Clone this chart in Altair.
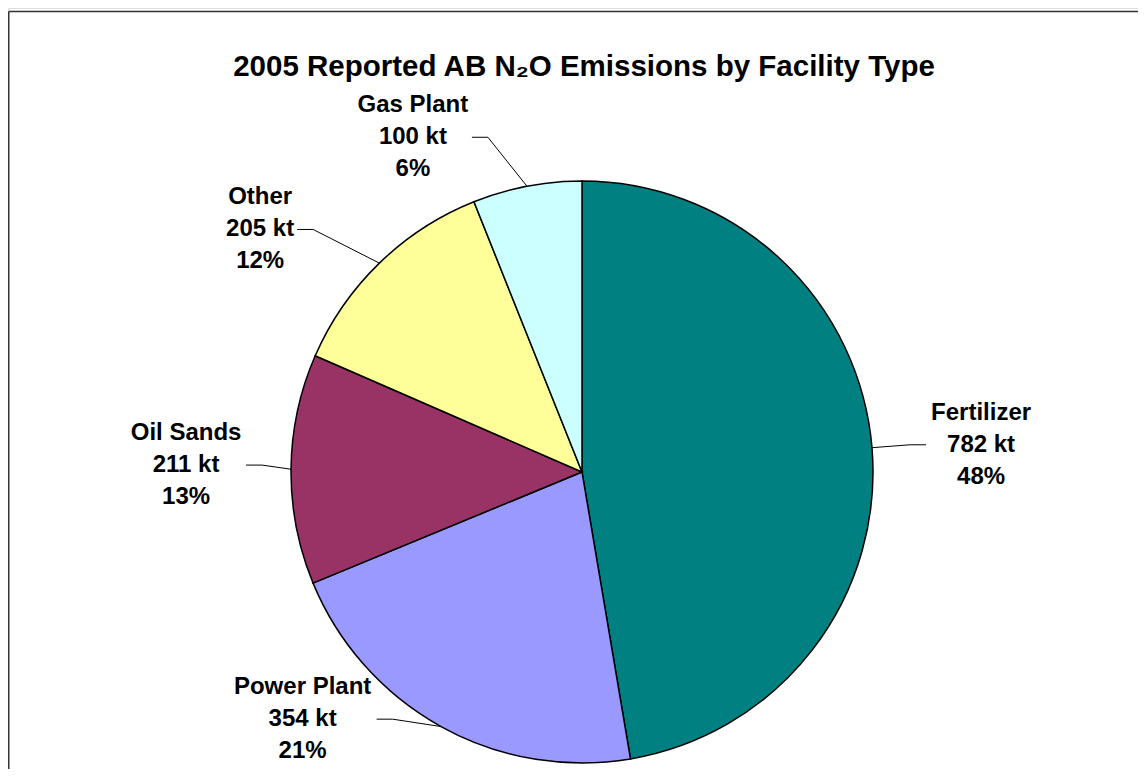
import altair as alt
import pandas as pd

# ---- data ----
categories = ["Fertilizer", "Power Plant", "Oil Sands", "Other", "Gas Plant"]
values_kt = [782, 354, 211, 205, 100]
pct_labels = ["48%", "21%", "13%", "12%", "6%"]
colors = ["#008080", "#9999FF", "#993366", "#FFFF99", "#CCFFFF"]

# ---- label layout (polar, relative to pie centre) ----
label_angle_deg = [86.1, 228.5, 271.0, 307.0, 333.2]
label_radius_px = [400, 373, 396, 403, 375]
label_half_width = [53, 72, 58, 35, 57]

W, H = 1130, 761
CX, CY, R = 574, 464, 291
FONT = "Liberation Sans"
LINE_H = 32

df = pd.DataFrame({
    "category": categories,
    "value": values_kt,
    "pct": pct_labels,
    "idx": list(range(len(categories))),
    "la": label_angle_deg,
    "lr": label_radius_px,
    "hw": label_half_width,
})

base = (
    alt.Chart(df)
    .transform_joinaggregate(total="sum(value)")
    .transform_window(cum="sum(value)", sort=[alt.SortField("idx")], frame=[None, 0])
    .transform_calculate(
        mid="(datum.cum - datum.value/2) / datum.total * 2 * PI",
        px=f"{CX} + {R} * sin(datum.mid)",
        py=f"{CY} - {R} * cos(datum.mid)",
        lx=f"{CX} + datum.lr * sin(datum.la * PI / 180)",
        ly=f"{CY} - datum.lr * cos(datum.la * PI / 180)",
        side="sin(datum.la * PI / 180) > 0 ? 1 : -1",
        ex="datum.lx - datum.side * (datum.hw + 2)",
        elx="datum.lx - datum.side * (datum.hw + 18)",
        label="datum.category + '\\n' + datum.value + ' kt\\n' + datum.pct",
    )
)

pie = alt.Chart(df).mark_arc(radius=R, stroke="black", strokeWidth=1.5).encode(
    theta=alt.Theta("value:Q", stack=True),
    color=alt.Color("category:N", scale=alt.Scale(domain=categories, range=colors), legend=None),
    order=alt.Order("idx:Q"),
    x=alt.value(CX),
    y=alt.value(CY),
)

lead1 = base.mark_rule(color="black", strokeWidth=1).encode(
    x=alt.X("ex:Q", scale=None, axis=None),
    x2="elx:Q",
    y=alt.Y("ly:Q", scale=None, axis=None),
    y2="ly:Q",
)
lead2 = base.mark_rule(color="black", strokeWidth=1).encode(
    x=alt.X("elx:Q", scale=None, axis=None),
    x2="px:Q",
    y=alt.Y("ly:Q", scale=None, axis=None),
    y2="py:Q",
)

labels = base.mark_text(
    font=FONT, fontSize=24, fontWeight="bold", lineBreak="\n", lineHeight=LINE_H,
    align="center", baseline="middle", color="black", dy=-LINE_H,
).encode(
    x=alt.X("lx:Q", scale=None, axis=None),
    y=alt.Y("ly:Q", scale=None, axis=None),
    text="label:N",
)

one = alt.Data(values=[{"k": 1}])
title = alt.Chart(one).mark_text(
    font=FONT, fontSize=29.5, fontWeight="bold", align="center", baseline="alphabetic", color="black",
    text="2005 Reported AB N\u2082O Emissions by Facility Type",
).encode(x=alt.value(576), y=alt.value(68))

frame_top = alt.Chart(one).mark_rule(color="#333333", strokeWidth=1.5).encode(
    x=alt.value(0.75), x2=alt.value(W + 50), y=alt.value(3.5)
)
frame_left = alt.Chart(one).mark_rule(color="#333333", strokeWidth=1.5).encode(
    x=alt.value(0.75), y=alt.value(3.5), y2=alt.value(H + 50)
)

chart = (
    alt.layer(frame_top, frame_left, pie, lead1, lead2, labels, title)
    .properties(width=W, height=H, padding=0, autosize=alt.AutoSizeParams(type="none"))
    .configure_view(stroke=None)
    .configure(background="white")
)

chart.save("out.html", embed_options={"renderer": "svg", "actions": False})
